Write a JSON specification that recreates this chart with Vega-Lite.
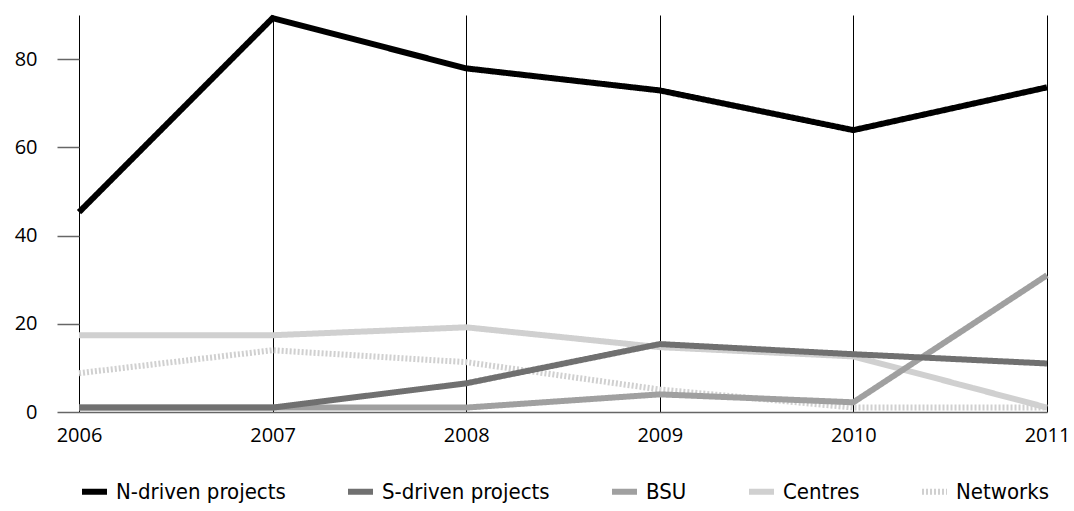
{
  "$schema": "https://vega.github.io/schema/vega-lite/v6.json",
  "width": 968,
  "height": 397,
  "autosize": {"type": "none"},
  "padding": {"left": 79, "top": 15, "right": 27, "bottom": 99},
  "background": "white",
  "config": {
    "view": {"stroke": null},
    "font": "Open Sans"
  },
  "data": {
    "values": [
      {"year": "2006", "series": "Networks", "value": 8.8},
      {"year": "2007", "series": "Networks", "value": 14},
      {"year": "2008", "series": "Networks", "value": 11.3},
      {"year": "2009", "series": "Networks", "value": 5.1},
      {"year": "2010", "series": "Networks", "value": 1},
      {"year": "2011", "series": "Networks", "value": 1},
      {"year": "2006", "series": "Centres", "value": 17.4},
      {"year": "2007", "series": "Centres", "value": 17.4},
      {"year": "2008", "series": "Centres", "value": 19.2},
      {"year": "2009", "series": "Centres", "value": 14.7},
      {"year": "2010", "series": "Centres", "value": 12.6},
      {"year": "2011", "series": "Centres", "value": 1},
      {"year": "2006", "series": "BSU", "value": 1},
      {"year": "2007", "series": "BSU", "value": 1},
      {"year": "2008", "series": "BSU", "value": 1},
      {"year": "2009", "series": "BSU", "value": 4},
      {"year": "2010", "series": "BSU", "value": 2.2},
      {"year": "2011", "series": "BSU", "value": 31},
      {"year": "2006", "series": "S-driven projects", "value": 1},
      {"year": "2007", "series": "S-driven projects", "value": 1},
      {"year": "2008", "series": "S-driven projects", "value": 6.5},
      {"year": "2009", "series": "S-driven projects", "value": 15.4},
      {"year": "2010", "series": "S-driven projects", "value": 13.1},
      {"year": "2011", "series": "S-driven projects", "value": 11},
      {"year": "2006", "series": "N-driven projects", "value": 45.3},
      {"year": "2007", "series": "N-driven projects", "value": 89.3},
      {"year": "2008", "series": "N-driven projects", "value": 77.9},
      {"year": "2009", "series": "N-driven projects", "value": 72.9},
      {"year": "2010", "series": "N-driven projects", "value": 63.9},
      {"year": "2011", "series": "N-driven projects", "value": 73.6}
    ]
  },
  "mark": {"type": "line", "strokeWidth": 6, "strokeJoin": "miter", "strokeCap": "butt"},
  "encoding": {
    "x": {
      "field": "year",
      "type": "ordinal",
      "sort": null,
      "scale": {"type": "point", "padding": 0},
      "axis": {
        "title": null,
        "labelAngle": 0,
        "labelFontSize": 20,
        "labelColor": "#000",
        "labelPadding": 13,
        "ticks": false,
        "domainColor": "#666",
        "domainWidth": 1.5,
        "grid": true,
        "gridColor": "#000",
        "gridWidth": 1,
        "gridOpacity": 1
      }
    },
    "y": {
      "field": "value",
      "type": "quantitative",
      "scale": {"domain": [0, 90], "nice": false},
      "axis": {
        "title": null,
        "values": [0, 20, 40, 60, 80],
        "labelFontSize": 20,
        "labelColor": "#000",
        "tickSize": 22,
        "tickColor": "#666",
        "tickWidth": 1.5,
        "labelPadding": 20,
        "domain": false,
        "grid": false
      }
    },
    "color": {
      "field": "series",
      "type": "nominal",
      "scale": {
        "domain": ["N-driven projects", "S-driven projects", "BSU", "Centres", "Networks"],
        "range": ["#000000", "#707070", "#a0a0a0", "#d0d0d0", "#d0d0d0"]
      },
      "legend": {
        "title": null,
        "orient": "bottom",
        "direction": "horizontal",
        "symbolType": "stroke",
        "symbolSize": 625,
        "symbolStrokeWidth": 6,
        "labelFont": "DejaVu Sans Condensed, DejaVu Sans",
        "labelFontSize": 22,
        "labelLimit": 400,
        "labelColor": "#000",
        "labelOffset": 6,
        "columnPadding": 50,
        "offset": 31
      }
    },
    "strokeDash": {
      "field": "series",
      "type": "nominal",
      "scale": {
        "domain": ["N-driven projects", "S-driven projects", "BSU", "Centres", "Networks"],
        "range": [[1, 0], [1, 0], [1, 0], [1, 0], [2, 2]]
      },
      "legend": {
        "title": null,
        "orient": "bottom",
        "direction": "horizontal",
        "symbolType": "stroke",
        "symbolSize": 625,
        "symbolStrokeWidth": 6,
        "labelFont": "DejaVu Sans Condensed, DejaVu Sans",
        "labelFontSize": 22,
        "labelLimit": 400,
        "labelColor": "#000",
        "labelOffset": 6,
        "columnPadding": 50,
        "offset": 31
      }
    }
  }
}
